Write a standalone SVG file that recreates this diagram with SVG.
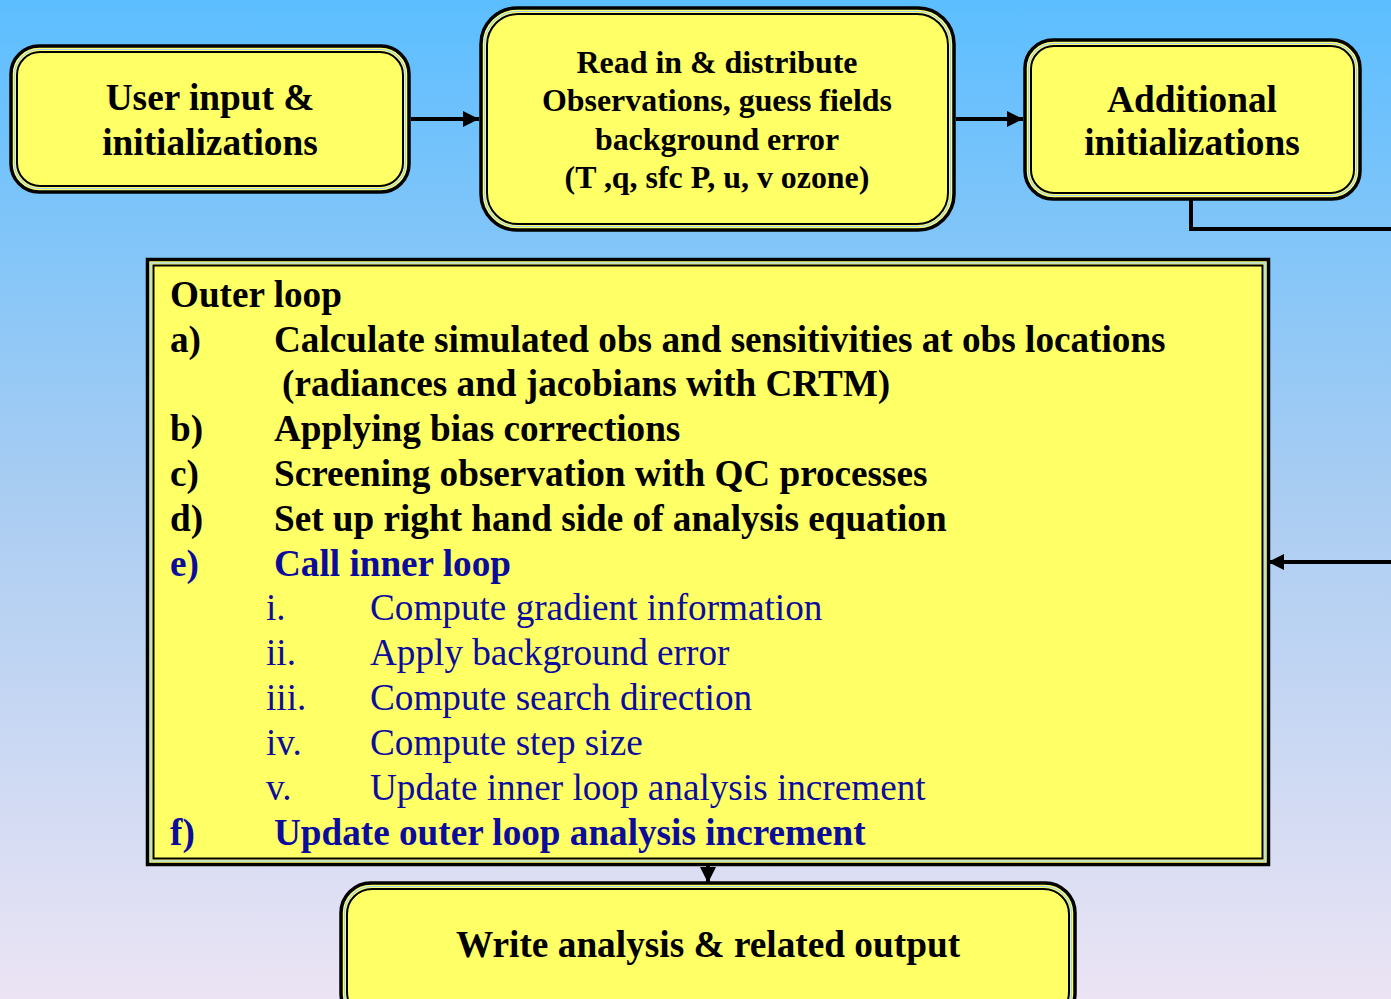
<svg xmlns="http://www.w3.org/2000/svg" width="1391" height="999" viewBox="0 0 1391 999">
  <defs>
    <linearGradient id="sky" x1="0" y1="0" x2="0" y2="1">
      <stop offset="0" stop-color="#5cbeff"/>
      <stop offset="0.5" stop-color="#aacdf2"/>
      <stop offset="1" stop-color="#ece4f4"/>
    </linearGradient>
    <marker id="arrow" viewBox="0 0 10 10" refX="10" refY="5" markerWidth="4" markerHeight="4" markerUnits="strokeWidth" orient="auto">
      <path d="M0,0 L10,5 L0,10 z" fill="#000"/>
    </marker>
    <style>
      .outer { fill: #ffff66; stroke: #000; stroke-width: 3.5; }
      .inner { fill: none; stroke: #000; stroke-width: 2; }
      .gap { fill: none; stroke: #9fd0ff; stroke-width: 1.2; }
      .conn { fill: none; stroke: #000; stroke-width: 4; }
      .t { font-family: "Liberation Serif", "Times New Roman", serif; }
      .b { font-weight: bold; }
      .big { font-size: 37.3px; }
      .mid { font-size: 31.9px; }
      .list { font-size: 37.2px; }
      .blue { fill: #0c0c9c; }
      .blk { fill: #000; }
    </style>
  </defs>

  <rect x="0" y="0" width="1391" height="999" fill="url(#sky)"/>

  <!-- connectors -->
  <g id="connectors">
    <line class="conn" x1="411" y1="119" x2="479" y2="119" marker-end="url(#arrow)"/>
    <line class="conn" x1="956" y1="119" x2="1023" y2="119" marker-end="url(#arrow)"/>
    <polyline class="conn" points="1191,200 1191,229 1393,229"/>
    <line class="conn" x1="1393" y1="562" x2="1268" y2="562" marker-end="url(#arrow)"/>
    <line class="conn" x1="708" y1="866" x2="708" y2="883" stroke-width="3" marker-end="url(#arrow)"/>
  </g>

  <!-- User input box -->
  <g id="user-input">
    <rect class="outer" x="11" y="46" width="398" height="146" rx="28"/>
    <rect class="gap" x="14.5" y="49.5" width="391" height="139" rx="25"/>
    <rect class="inner" x="17" y="52" width="386" height="134" rx="23"/>
    <text class="t b big blk" x="210" y="110" text-anchor="middle">User input &amp;</text>
    <text class="t b big blk" x="210" y="155" text-anchor="middle">initializations</text>
  </g>

  <!-- Read in box -->
  <g id="read-in">
    <rect class="outer" x="481" y="8" width="473" height="222" rx="36"/>
    <rect class="gap" x="484.5" y="11.5" width="466" height="215" rx="33"/>
    <rect class="inner" x="487" y="14" width="461" height="210" rx="31"/>
    <text class="t b mid blk" x="717" y="73" text-anchor="middle">Read in &amp; distribute</text>
    <text class="t b mid blk" x="717" y="111" text-anchor="middle">Observations, guess fields</text>
    <text class="t b mid blk" x="717" y="150" text-anchor="middle">background error</text>
    <text class="t b mid blk" x="717" y="188" text-anchor="middle">(T ,q, sfc P, u, v ozone)</text>
  </g>

  <!-- Additional initializations box -->
  <g id="additional">
    <rect class="outer" x="1025" y="40" width="335" height="159" rx="28"/>
    <rect class="gap" x="1028.5" y="43.5" width="328" height="152" rx="25"/>
    <rect class="inner" x="1031" y="46" width="323" height="147" rx="23"/>
    <text class="t b big blk" x="1192" y="112" text-anchor="middle">Additional</text>
    <text class="t b big blk" x="1192" y="155" text-anchor="middle">initializations</text>
  </g>

  <!-- Outer loop box -->
  <g id="outer-loop">
    <rect class="outer" x="147.5" y="259.5" width="1121" height="605"/>
    <rect class="gap" x="151" y="263" width="1114" height="598"/>
    <rect class="inner" x="153.5" y="265.5" width="1109" height="593"/>
    <text class="t b list blk" x="170" y="307">Outer loop</text>
    <text class="t b list blk" x="170" y="352">a)</text>
    <text class="t b list blk" x="274" y="352">Calculate simulated obs and sensitivities at obs locations</text>
    <text class="t b list blk" x="282" y="396">(radiances and jacobians with CRTM)</text>
    <text class="t b list blk" x="170" y="441">b)</text>
    <text class="t b list blk" x="274" y="441">Applying bias corrections</text>
    <text class="t b list blk" x="170" y="486">c)</text>
    <text class="t b list blk" x="274" y="486">Screening observation with QC processes</text>
    <text class="t b list blk" x="170" y="531">d)</text>
    <text class="t b list blk" x="274" y="531">Set up right hand side of analysis equation</text>
    <text class="t b list blue" x="170" y="576">e)</text>
    <text class="t b list blue" x="274" y="576">Call inner loop</text>
    <text class="t list blue" x="266" y="620">i.</text>
    <text class="t list blue" x="370" y="620">Compute gradient information</text>
    <text class="t list blue" x="266" y="665">ii.</text>
    <text class="t list blue" x="370" y="665">Apply background error</text>
    <text class="t list blue" x="266" y="710">iii.</text>
    <text class="t list blue" x="370" y="710">Compute search direction</text>
    <text class="t list blue" x="266" y="755">iv.</text>
    <text class="t list blue" x="370" y="755">Compute step size</text>
    <text class="t list blue" x="266" y="800">v.</text>
    <text class="t list blue" x="370" y="800">Update inner loop analysis increment</text>
    <text class="t b list blue" x="170" y="845">f)</text>
    <text class="t b list blue" x="274" y="845">Update outer loop analysis increment</text>
  </g>

  <!-- Write analysis box -->
  <g id="write-output">
    <rect class="outer" x="341" y="883" width="734" height="140" rx="30"/>
    <rect class="gap" x="344.5" y="886.5" width="727" height="133" rx="27"/>
    <rect class="inner" x="347" y="889" width="722" height="128" rx="25"/>
    <text class="t b big blk" x="708" y="957" text-anchor="middle">Write analysis &amp; related output</text>
  </g>
</svg>
